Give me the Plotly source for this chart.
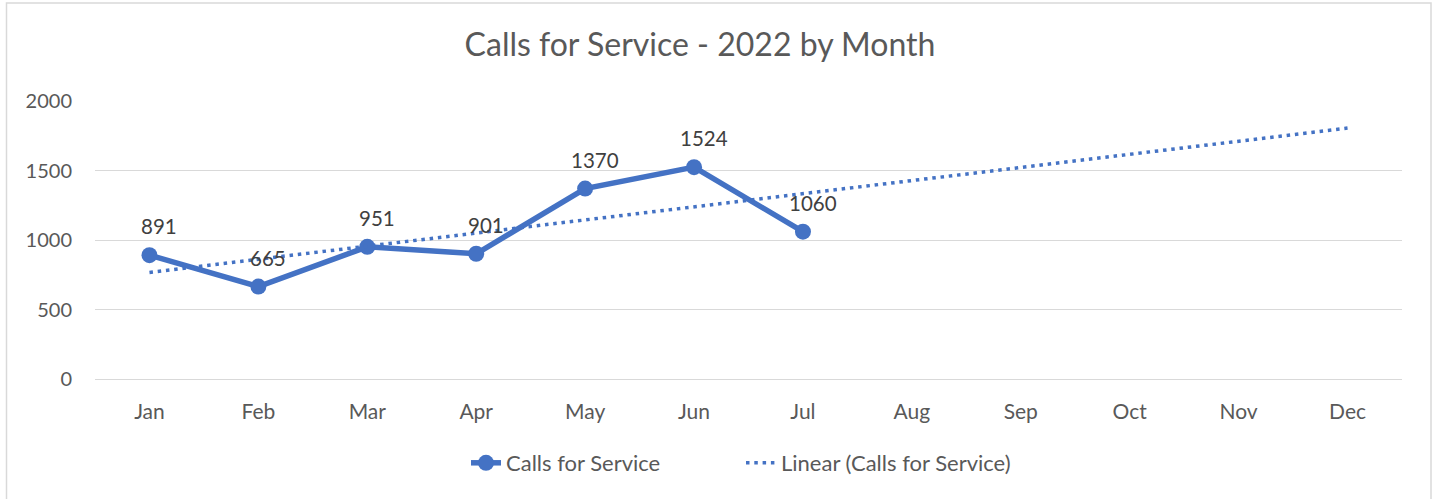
import plotly.graph_objects as go

months = ["Jan", "Feb", "Mar", "Apr", "May", "Jun", "Jul", "Aug", "Sep", "Oct", "Nov", "Dec"]
calls_months = ["Jan", "Feb", "Mar", "Apr", "May", "Jun", "Jul"]
calls_values = [891, 665, 951, 901, 1370, 1524, 1060]
trend_months = ["Jan", "Dec"]
trend_values = [767, 1805]
y_ticks = [0, 500, 1000, 1500, 2000]

BLUE = "#4472C4"
GREY_TXT = "#595959"
LABEL_TXT = "#404040"
GRID = "#D9D9D9"
FONT = "Lato"

fig = go.Figure()
fig.add_trace(go.Scatter(
    x=calls_months, y=calls_values, name="Calls for Service",
    mode="lines+markers",
    line=dict(color=BLUE, width=5.5),
    marker=dict(color=BLUE, size=16),
    legend="legend",
))
fig.add_trace(go.Scatter(
    x=trend_months, y=trend_values, name="Linear (Calls for Service)",
    mode="lines",
    line=dict(color=BLUE, width=3.5, dash="3.5px,4.8px"),
    legend="legend2",
))

# data labels (slightly right of and above each point, as in the source)
for m, v in zip(calls_months, calls_values):
    fig.add_annotation(x=m, y=v, text=str(v), showarrow=False,
                       xanchor="center", yanchor="middle", xshift=10, yshift=29,
                       font=dict(family=FONT, size=20.5, color=LABEL_TXT))

W, H = 1437, 499
L, R, T, B = 95, 35, 101, 120
pw, ph = W - L - R, H - T - B

def px_x(x):
    return (x - L) / pw

def px_y(y):
    return (H - B - y) / ph

fig.add_shape(type="rect", xref="paper", yref="paper",
              x0=px_x(6.5), x1=px_x(1431), y0=px_y(520), y1=px_y(3),
              line=dict(color=GRID, width=1.5), fillcolor="rgba(0,0,0,0)", layer="below")

leg_font = dict(family=FONT, size=22, color=GREY_TXT)
fig.update_layout(
    width=W, height=H,
    margin=dict(l=L, r=R, t=T, b=B),
    paper_bgcolor="white", plot_bgcolor="white",
    font=dict(family=FONT, color=GREY_TXT, size=20),
    title=dict(text="Calls for Service - 2022 by Month", x=700 / W, xref="container",
               xanchor="center", y=1 - 45 / H, yref="container", yanchor="middle",
               font=dict(family=FONT, size=32, color=GREY_TXT)),
    xaxis=dict(categoryorder="array", categoryarray=months, tickvals=months,
               range=[-0.5, 11.5], showgrid=False, showline=False, zeroline=False,
               ticks="", ticklabelstandoff=18, tickfont=dict(size=21, color=GREY_TXT)),
    yaxis=dict(range=[0, 2000], tickvals=y_ticks, showgrid=True, gridcolor=GRID, gridwidth=1.3,
               zeroline=True, zerolinecolor=GRID, zerolinewidth=1.3, showline=False,
               ticks="", ticklabelstandoff=22, tickfont=dict(size=20, color=GREY_TXT)),
    showlegend=True,
    legend=dict(orientation="h", x=px_x(508 - 42), xanchor="left", y=px_y(463), yanchor="middle",
                font=leg_font, bgcolor="rgba(0,0,0,0)"),
    legend2=dict(orientation="h", x=px_x(783 - 42), xanchor="left", y=px_y(463), yanchor="middle",
                 font=leg_font, bgcolor="rgba(0,0,0,0)"),
)

fig.write_html("out.html", config={"displayModeBar": False},
               post_script="document.body.style.margin='0px';")
